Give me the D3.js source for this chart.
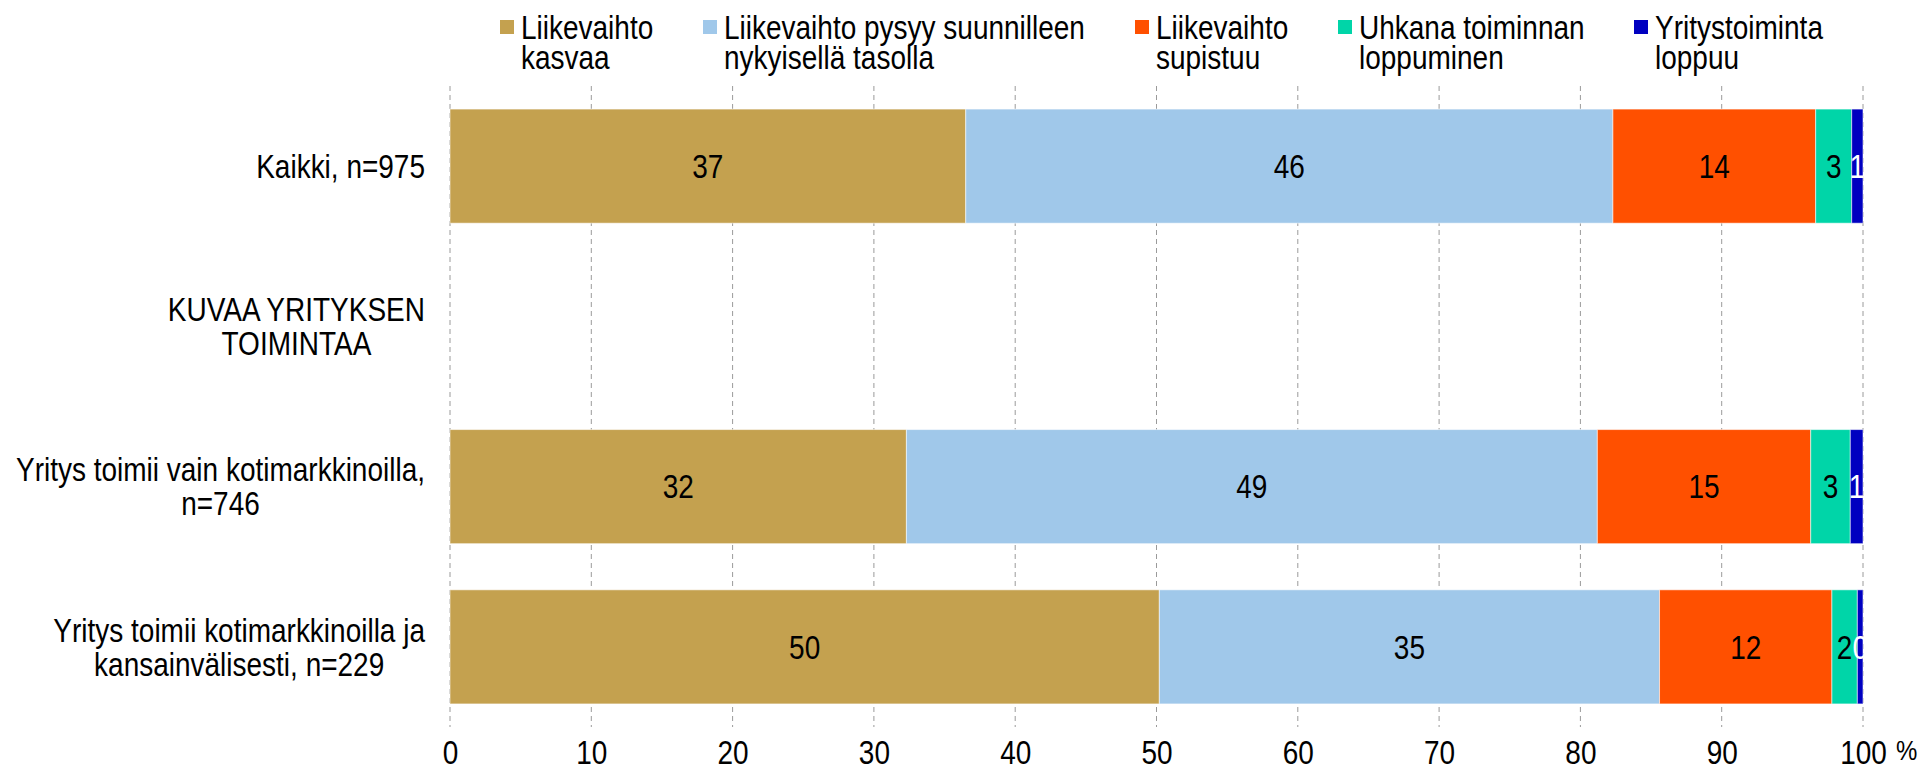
<!DOCTYPE html>
<html>
<head>
<meta charset="utf-8">
<script src="https://cdn.jsdelivr.net/npm/d3@7"></script>
<style>
  html, body { margin: 0; padding: 0; background: #fff; }
  svg { display: block; font-family: "Liberation Sans", Arial, sans-serif; }
</style>
</head>
<body>
<svg id="chart" width="1922" height="771"></svg>
<script>
// ---- data ----
const categories = [
  "Kaikki, n=975",
  "KUVAA YRITYKSEN\nTOIMINTAA",
  "Yritys toimii vain kotimarkkinoilla,\nn=746",
  "Yritys toimii kotimarkkinoilla ja\nkansainvälisesti, n=229"
];
const seriesNames = [
  "Liikevaihto\nkasvaa",
  "Liikevaihto pysyy suunnilleen\nnykyisellä tasolla",
  "Liikevaihto\nsupistuu",
  "Uhkana toiminnan\nloppuminen",
  "Yritystoiminta\nloppuu"
];
const kasvaa     = [36.5, null, 32.3, 50.2];
const pysyy      = [45.8, null, 48.9, 35.4];
const supistuu   = [14.35, null, 15.1, 12.2];
const uhkana     = [2.55, null, 2.8, 1.8];
const loppuu     = [0.8, null, 0.9, 0.4];
const seriesValues = [kasvaa, pysyy, supistuu, uhkana, loppuu];
const xTicks = [0, 10, 20, 30, 40, 50, 60, 70, 80, 90, 100];

// ---- styles ----
const colors = ["#C4A14F", "#A0C8EA", "#FF5000", "#00D5A8", "#0000C0"];
const labelColors = ["#000", "#000", "#000", "#000", "#fff"];
const FS = 28;
const K = 1.18;            // vertical glyph stretch of the original rendering
const HALF = 10 * K;       // half cap height after stretch

const svg = d3.select("#chart");

function addText(parent, x, yCenter, str, opts = {}) {
  const t = parent.append("text")
    .attr("transform", `translate(${x},${yCenter + HALF}) scale(1,${K})`)
    .attr("font-size", opts.size || FS)
    .attr("fill", opts.fill || "#000")
    .attr("text-anchor", opts.anchor || "start")
    .text(str);
  return t;
}

const x = d3.scaleLinear().domain([0, 100]).range([450, 1863]);
const y = d3.scaleBand().domain(categories).range([86, 727])
  .paddingInner(0.288).paddingOuter(0.144);

// gridlines
svg.append("g").selectAll("line").data(xTicks).join("line")
  .attr("x1", d => x(d)).attr("x2", d => x(d))
  .attr("y1", 86).attr("y2", 727)
  .attr("stroke", "#9a9a9a").attr("stroke-width", 1)
  .attr("stroke-dasharray", "5,4");

// stacked data
const rows = categories.map((c, i) => {
  let acc = 0;
  const segs = [];
  seriesValues.forEach((arr, s) => {
    const v = arr[i];
    if (v == null) return;
    segs.push({ cat: c, s, v, x0: acc, x1: acc + v });
    acc += v;
  });
  return segs;
}).flat();

svg.append("g").selectAll("rect").data(rows).join("rect")
  .attr("x", d => x(d.x0))
  .attr("y", d => y(d.cat))
  .attr("width", d => x(d.x1) - x(d.x0))
  .attr("height", y.bandwidth())
  .attr("fill", d => colors[d.s])
  .attr("stroke", "rgba(255,255,255,0.55)")
  .attr("stroke-width", 1);

const valG = svg.append("g");
rows.forEach(d => {
  addText(valG, (x(d.x0) + x(d.x1)) / 2, y(d.cat) + y.bandwidth() / 2,
    Math.round(d.v), { anchor: "middle", fill: labelColors[d.s] });
});

// category labels (lines centered, block right-aligned at x=425)
const catG = svg.append("g");
categories.forEach(c => {
  const lines = c.split("\n");
  const lh = 34;
  const cy = y(c) + y.bandwidth() / 2;
  const texts = lines.map((ln, k) =>
    addText(catG, 0, cy + (k - (lines.length - 1) / 2) * lh, ln, { anchor: "middle" }));
  const w = d3.max(texts, t => t.node().getComputedTextLength());
  const cx = 425 - w / 2;
  texts.forEach((t, k) => {
    const yc = cy + (k - (lines.length - 1) / 2) * lh;
    t.attr("transform", `translate(${cx},${yc + HALF}) scale(1,${K})`);
  });
});

// x axis
const axis = d3.axisBottom(x).tickValues(xTicks).tickSize(0).tickPadding(0);
const ax = svg.append("g").attr("transform", "translate(0,0)").call(axis);
ax.select(".domain").remove();
ax.selectAll("text")
  .attr("y", null).attr("dy", null)
  .attr("transform", `translate(0,${752.6 + HALF}) scale(1,${K})`)
  .attr("font-size", FS).attr("fill", "#000")
  .attr("font-family", "'Liberation Sans', Arial, sans-serif");
addText(svg, 1896, 748, "%", { size: 24 });

// legend
const legX = [500, 703, 1135, 1338, 1634];
const lg = svg.append("g");
seriesNames.forEach((n, i) => {
  lg.append("rect").attr("x", legX[i]).attr("y", 20).attr("width", 14).attr("height", 14)
    .attr("fill", colors[i]);
  n.split("\n").forEach((ln, k) => {
    addText(lg, legX[i] + 21, 27 + k * 30.6, ln);
  });
});
</script>
</body>
</html>
